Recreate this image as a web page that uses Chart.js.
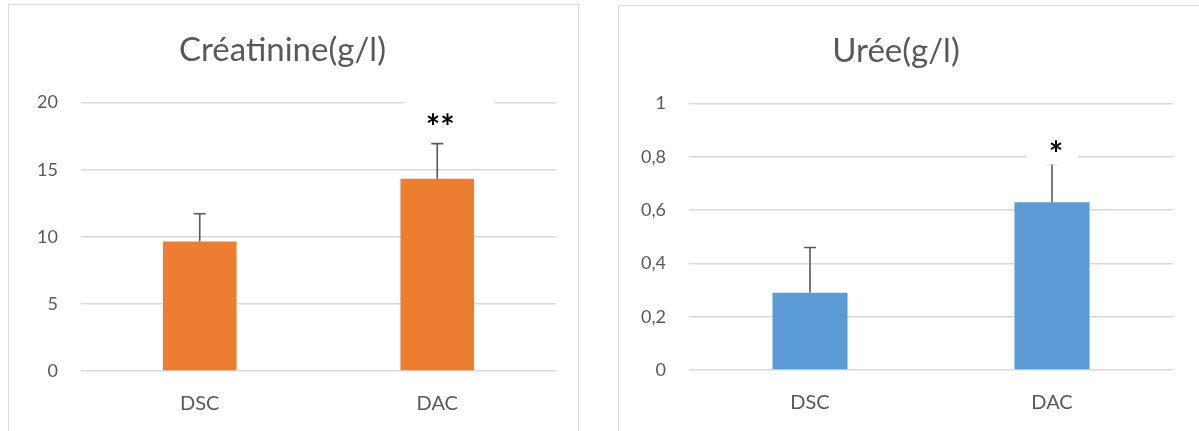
<!DOCTYPE html>
<html lang="fr">
<head>
<meta charset="utf-8">
<title>Créatinine et Urée</title>
<script src="https://cdn.jsdelivr.net/npm/chart.js@4.4.1/dist/chart.umd.min.js"></script>
<style>
  html, body { margin: 0; padding: 0; background: #ffffff; overflow: hidden; }
  body { width: 1199px; height: 431px; position: relative; }
  .frame { position: absolute; border: 1px solid #d9d9d9; background: #ffffff; }
  #frameA { left: 8px; top: 4px; width: 569px; height: 440px; }
  #frameB { left: 618px; top: 5px; width: 585px; height: 440px; }
  .frame canvas { position: absolute; left: 0; top: 0; }
</style>
</head>
<body>
<div class="frame" id="frameA"><canvas id="chartA" width="568" height="427"></canvas></div>
<div class="frame" id="frameB"><canvas id="chartB" width="584" height="426"></canvas></div>
<script>
// Groups on the category axis
const groups = ['DSC', 'DAC'];

// Créatinine (g/l): means, standard deviations, significance marks
const creatinineMean = [9.65, 14.33];
const creatinineSd = [2.07, 2.61];
const creatinineSig = ['', '**'];
const creatinineTicks = ['0', '5', '10', '15', '20'];

// Urée (g/l): means, standard deviations, significance marks
const ureeMean = [0.29, 0.63];
const ureeSd = [0.17, 0.145];
const ureeSig = ['', '*'];
const ureeTicks = ['0', '0,2', '0,4', '0,6', '0,8', '1'];

const TEXT = '#595959';
const GRID = '#d9d9d9';
const FONT = 'Lato, "Open Sans", sans-serif';

// Upward error bars plus the significance stars (on a white text box)
const errorBarsPlugin = {
  id: 'errorBars',
  afterDatasetsDraw(chart, args, opts) {
    const { ctx } = chart;
    const xs = chart.scales.x, ys = chart.scales.y;
    const ds = chart.data.datasets[0];
    ctx.save();
    ds.data.forEach((v, i) => {
      const x = xs.getPixelForValue(i);
      const yBase = ys.getPixelForValue(v);
      const yTop = ys.getPixelForValue(v + opts.sd[i]);
      ctx.strokeStyle = '#595959';
      ctx.lineWidth = 1.6;
      ctx.beginPath();
      ctx.moveTo(x, yBase);
      ctx.lineTo(x, yTop);
      ctx.moveTo(x - 6, yTop);
      ctx.lineTo(x + 6, yTop);
      ctx.stroke();

      const label = opts.sig[i];
      if (label) {
        const cx = x + opts.dx;
        const cy = yTop - opts.dy;
        ctx.fillStyle = '#ffffff';
        ctx.fillRect(cx + opts.box[0], cy + opts.box[1], opts.box[2], opts.box[3]);
        ctx.font = 'bold ' + opts.size + 'px ' + FONT;
        ctx.fillStyle = '#000000';
        ctx.textAlign = 'center';
        ctx.textBaseline = 'alphabetic';
        const m = ctx.measureText(label);
        const yText = cy + (m.actualBoundingBoxAscent - m.actualBoundingBoxDescent) / 2;
        ctx.fillText(label, cx, yText);
      }
    });
    ctx.restore();
  }
};

function makeChart(id, cfg) {
  return new Chart(document.getElementById(id), {
    type: 'bar',
    data: {
      labels: groups,
      datasets: [{
        data: cfg.values,
        backgroundColor: cfg.color,
        borderWidth: 0,
        categoryPercentage: 1,
        barPercentage: 0.31
      }]
    },
    options: {
      responsive: false,
      animation: false,
      events: [],
      layout: { padding: { left: 0, right: cfg.padRight, top: 0, bottom: 0 } },
      plugins: {
        legend: { display: false },
        tooltip: { enabled: false },
        title: {
          display: true,
          text: cfg.title,
          color: TEXT,
          font: { family: FONT, size: 33, weight: 'normal', lineHeight: 1.2 },
          padding: { top: 26, bottom: 32 }
        },
        errorBars: cfg.marks
      },
      scales: {
        x: {
          grid: { display: false, drawTicks: false },
          border: { display: false },
          ticks: { color: TEXT, font: { family: FONT, size: 20 }, padding: 21 },
          afterFit(scale) { scale.height = cfg.xHeight; }
        },
        y: {
          min: 0,
          max: cfg.max,
          grid: { color: GRID, lineWidth: 1.6, drawTicks: false },
          border: { display: false },
          ticks: {
            stepSize: cfg.step,
            color: TEXT,
            padding: 23,
            font: { family: FONT, size: 18 },
            callback: (value, index) => cfg.ticks[index]
          },
          afterFit(scale) { scale.width = cfg.yWidth; }
        }
      }
    },
    plugins: [errorBarsPlugin]
  });
}

makeChart('chartA', {
  title: 'Créatinine(g/l)',
  values: creatinineMean,
  color: '#ed7d31',
  max: 20, step: 5, ticks: creatinineTicks,
  yWidth: 72, xHeight: 61, padRight: 21,
  marks: { sd: creatinineSd, sig: creatinineSig, dx: 3, dy: 25, size: 34, box: [-36, -22, 90, 40] }
});

makeChart('chartB', {
  title: 'Urée(g/l)',
  values: ureeMean,
  color: '#5b9bd5',
  max: 1, step: 0.2, ticks: ureeTicks,
  yWidth: 70, xHeight: 62, padRight: 30,
  marks: { sd: ureeSd, sig: ureeSig, dx: 4, dy: 18, size: 34, box: [-29, -16, 51, 35] }
});
</script>
</body>
</html>
